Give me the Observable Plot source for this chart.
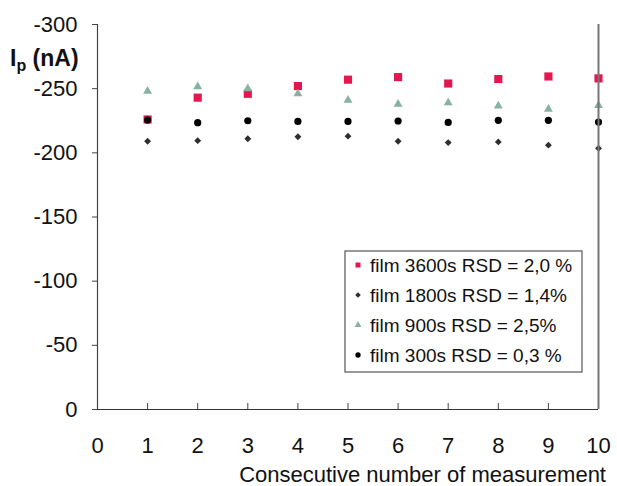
<!DOCTYPE html>
<html>
<head>
<meta charset="utf-8">
<script src="https://cdn.jsdelivr.net/npm/d3@7"></script>
<script src="https://cdn.jsdelivr.net/npm/@observablehq/plot@0.6"></script>
<style>
  html, body { margin: 0; padding: 0; background: #fff; }
  #chart { width: 617px; height: 486px; }
  svg { font-family: "Liberation Sans", Arial, sans-serif; }
</style>
</head>
<body>
<div id="chart"></div>
<script>
const measurement = [1, 2, 3, 4, 5, 6, 7, 8, 9, 10];
const film3600 = [-226, -243, -246, -252, -257, -259, -254, -257.5, -259.5, -258];
const film1800 = [-209, -209.5, -211, -212.5, -213, -209, -208, -208.5, -206, -203.5];
const film900  = [-248, -251.5, -250, -246, -241, -238, -239, -236.5, -234, -237];
const film300  = [-225.5, -223.5, -225, -224.5, -224.5, -224.8, -223.7, -225.3, -225.3, -224];

const seriesNames = ["film 3600s RSD = 2,0 %", "film 1800s RSD = 1,4%", "film 900s RSD = 2,5%", "film 300s RSD = 0,3 %"];
const seriesValues = [film3600, film1800, film900, film300];
const seriesSymbols = ["square", "diamond2", "triangle", "circle"];
const seriesColors = ["#e2174f", "#2e2e2e", "#86b2a2", "#000000"];
const seriesR = [4.6, 3.1, 3.3, 3.6];

const xTicks = [0, 1, 2, 3, 4, 5, 6, 7, 8, 9, 10];
const yTicks = [0, -50, -100, -150, -200, -250, -300];
const xLabel = "Consecutive number of measurement";

const rows = seriesValues.map((vals, s) => measurement.map((m, i) => ({s, x: m, y: vals[i]})));

const dotMarks = rows.map((data, s) => Plot.dot(data, {
  x: "x", y: "y",
  symbol: () => seriesSymbols[s],
  fill: seriesColors[s],
  stroke: "none",
  r: seriesR[s]
}));

const plot = Plot.plot({
  width: 617,
  height: 486,
  marginLeft: 97,
  marginRight: 19,
  marginTop: 24,
  marginBottom: 77,
  style: {fontFamily: "'Liberation Sans', Arial, sans-serif", background: "#fff", overflow: "visible"},
  x: {domain: [0, 10]},
  y: {domain: [0, -300]},
  symbol: {type: "identity"},
  marks: [
    Plot.axisY({ticks: yTicks, tickSize: 5, tickPadding: 15, tickFormat: d => String(d), fontSize: 22, label: null, color: "#111", stroke: "#444"}),
    Plot.axisX({ticks: xTicks, tickSize: -6, tickPadding: 34, tickFormat: d => String(d), fontSize: 22, label: null, color: "#111", stroke: "#444"}),
    Plot.ruleX([0], {stroke: "#444", strokeWidth: 1.2}),
    Plot.ruleY([0], {stroke: "#333", strokeWidth: 1.2}),
    ...dotMarks,
    Plot.ruleX([10], {stroke: "#777", strokeWidth: 2})
  ]
});

document.getElementById("chart").appendChild(plot);

const svg = d3.select(plot);

// y-axis title with subscript
const yt = svg.append("text")
  .attr("x", 10).attr("y", 66)
  .attr("text-anchor", "start")
  .attr("font-size", 23).attr("font-weight", "bold").attr("fill", "#111");
yt.append("tspan").text("I");
yt.append("tspan").attr("font-size", 16).attr("dy", 5).text("p");
yt.append("tspan").attr("dy", -5).text(" (nA)");

// x-axis title
svg.append("text")
  .attr("x", 606).attr("y", 482)
  .attr("text-anchor", "end")
  .attr("font-size", 22).attr("fill", "#111")
  .text(xLabel);

// legend
const lg = svg.append("g").attr("text-anchor", "start");
lg.append("rect").attr("x", 345).attr("y", 251).attr("width", 237).attr("height", 121)
  .attr("fill", "#fff").attr("stroke", "#555").attr("stroke-width", 1.2);
seriesNames.forEach((name, i) => {
  const cy = 265 + i * 30;
  lg.append("path")
    .attr("transform", `translate(358,${cy})`)
    .attr("d", d3.symbol(
      [d3.symbolSquare, d3.symbolDiamond2, d3.symbolTriangle, d3.symbolCircle][i],
      [25, 20, 20, 22][i])())
    .attr("fill", seriesColors[i]);
  lg.append("text").attr("x", 370).attr("y", cy + 7)
    .attr("text-anchor", "start")
    .attr("font-size", 19).attr("fill", "#111").text(name);
});
</script>
</body>
</html>
